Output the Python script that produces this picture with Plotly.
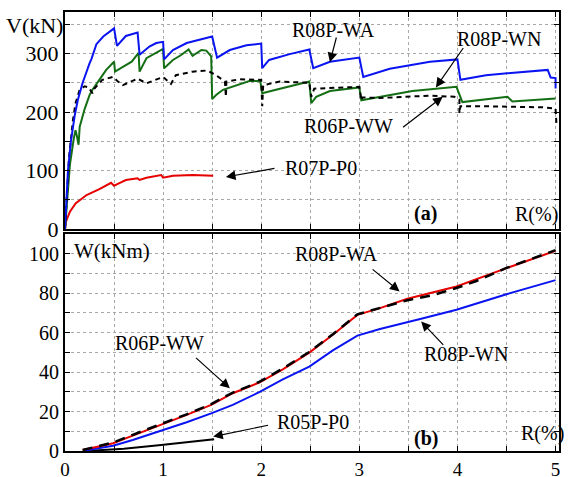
import plotly.graph_objects as go

# ---------------- Data: panel (a) V(kN) vs R(%) ----------------
wa_R = [0, 0.03, 0.06, 0.10, 0.13, 0.18, 0.25, 0.27, 0.32, 0.39, 0.50, 0.53, 0.62, 0.74, 0.76, 0.86, 0.93, 1.0, 1.01,
        1.10, 1.24, 1.37, 1.50, 1.55, 1.68, 1.85, 2.0, 2.01, 2.08, 2.29, 2.49, 2.53, 2.70, 3.0, 3.04, 3.31, 3.72, 4.0,
        4.03, 4.29, 4.92, 4.95, 5.0, 5.0]
wa_V = [0, 100, 150, 195, 220, 250, 283, 291, 316, 329, 343, 313, 330, 336, 298, 312, 318, 320, 290,
        306, 318, 324, 329, 293, 306, 314, 317, 275, 289, 299, 307, 275, 286, 293, 260, 274, 286, 290,
        255, 263, 272, 259, 258, 240]

wn_R = [0, 0.05, 0.09, 0.107, 0.12, 0.138, 0.15, 0.20, 0.25, 0.28, 0.35, 0.42, 0.50, 0.51, 0.59, 0.68, 0.75, 0.76,
        0.83, 0.91, 1.0, 1.01, 1.10, 1.18, 1.26, 1.30, 1.39, 1.44, 1.49, 1.50, 1.54, 1.61, 1.75, 1.88, 1.99, 2.01,
        2.15, 2.39, 2.49, 2.51, 2.56, 2.70, 3.0, 3.02, 3.21, 3.54, 3.99, 4.05, 4.51, 4.56, 5.0]
wn_V = [0, 110, 155, 169, 160, 144, 175, 205, 229, 238, 255, 272, 286, 269, 277, 286, 301, 269,
        292, 300, 308, 275, 289, 297, 307, 296, 306, 305, 295, 222, 229, 238, 246, 253, 253, 232,
        238, 248, 252, 215, 226, 236, 242, 220, 226, 236, 243, 217, 226, 218, 223]

ww_R = [0, 0.04, 0.08, 0.107, 0.15, 0.20, 0.24, 0.28, 0.30, 0.38, 0.49, 0.54, 0.59, 0.68, 0.74, 0.83, 1.0, 1.08,
        1.13, 1.30, 1.45, 1.54, 1.63, 1.64, 1.645, 1.78, 2.0, 2.01, 2.02, 2.19, 2.49, 2.51, 2.54, 3.0, 3.02, 3.03,
        3.21, 3.72, 3.97, 4.02, 4.02, 4.03, 4.23, 4.87, 5.0, 5.01]
ww_V = [0, 120, 185, 215, 238, 244, 242, 232, 240, 255, 260, 252, 246, 252, 257, 249, 260, 248,
        263, 269, 271, 263, 252, 226, 252, 256, 255, 210, 246, 252, 250, 226, 240, 243, 220, 225,
        224, 228, 226, 221, 198, 210, 210, 208, 206, 176]

p0_R = [0, 0.01, 0.05, 0.11, 0.22, 0.35, 0.47, 0.50, 0.56, 0.62, 0.74, 0.76, 0.83, 0.98, 1.0, 1.10, 1.30, 1.51]
p0_V = [0, 12.5, 29.6, 44, 58, 68, 79, 74, 79, 83.8, 86.6, 83.8, 87.7, 92.3, 87.7, 91, 92.3, 91]

# ---------------- Data: panel (b) W(kNm) vs R(%) ----------------
b_red_R = [0.18, 0.49, 0.69, 0.98, 1.24, 1.49, 1.71, 1.98, 2.22, 2.49, 2.73, 2.98, 3.21, 3.49, 3.99, 4.5, 5.0]
b_red_W = [0.5, 3.9, 7.8, 13.2, 18.3, 23.4, 29.3, 34.7, 41.4, 49.9, 58.9, 69.0, 72.4, 77.2, 83.4, 92.7, 101.5]

b_dash_R = [0.18, 0.49, 0.69, 0.98, 1.24, 1.49, 1.71, 1.98, 2.22, 2.49, 2.73, 2.98, 3.21, 3.49, 3.75, 3.99, 4.2, 4.5, 5.0]
b_dash_W = [0.5, 4.3, 8.2, 13.5, 18.6, 23.8, 29.6, 35.0, 41.8, 50.2, 59.2, 69.3, 72.6, 76.4, 79.0, 82.6, 86.3, 92.8, 101.8]

b_blue_R = [0.2, 0.49, 0.69, 0.98, 1.24, 1.49, 1.71, 1.98, 2.22, 2.49, 2.73, 2.98, 3.21, 3.61, 3.99, 4.5, 5.0]
b_blue_W = [0.2, 2.7, 5.6, 10.2, 14.6, 19.1, 23.4, 29.8, 36.3, 42.8, 51.0, 58.5, 61.8, 66.8, 71.6, 79.5, 86.6]

b_p0_R = [0.22, 0.6, 0.98, 1.25, 1.52]
b_p0_W = [0, 1.2, 3.0, 4.4, 6.0]

top_yticks = [0, 50, 100, 150, 200, 250, 300, 350]
top_ylabels = ["0", "", "100", "", "200", "", "300", ""]
bot_yticks = [0, 10, 20, 30, 40, 50, 60, 70, 80, 90, 100, 110]
bot_ylabels = ["0", "", "20", "", "40", "", "60", "", "80", "", "100", ""]
xticks = [0, 0.5, 1, 1.5, 2, 2.5, 3, 3.5, 4, 4.5, 5]
xlabels = ["0", "", "1", "", "2", "", "3", "", "4", "", "5"]

FONT = "Liberation Serif"
BLUE = "#0a14f0"
GREEN = "#146e14"
RED = "#e60000"

fig = go.Figure()
fig.add_trace(go.Scatter(x=p0_R, y=p0_V, mode="lines", line=dict(color=RED, width=2), xaxis="x", yaxis="y"))
fig.add_trace(go.Scatter(x=wn_R, y=wn_V, mode="lines", line=dict(color=GREEN, width=2), xaxis="x", yaxis="y"))
fig.add_trace(go.Scatter(x=ww_R, y=ww_V, mode="lines", line=dict(color="black", width=2, dash="5px,4px"), xaxis="x", yaxis="y"))
fig.add_trace(go.Scatter(x=wa_R, y=wa_V, mode="lines", line=dict(color=BLUE, width=2), xaxis="x", yaxis="y"))

fig.add_trace(go.Scatter(x=b_p0_R, y=b_p0_W, mode="lines", line=dict(color="black", width=2), xaxis="x2", yaxis="y2"))
fig.add_trace(go.Scatter(x=b_blue_R, y=b_blue_W, mode="lines", line=dict(color=BLUE, width=2), xaxis="x2", yaxis="y2"))
fig.add_trace(go.Scatter(x=b_red_R, y=b_red_W, mode="lines", line=dict(color=RED, width=2), xaxis="x2", yaxis="y2"))
fig.add_trace(go.Scatter(x=b_dash_R, y=b_dash_W, mode="lines", line=dict(color="black", width=2.5, dash="10px,7px"), xaxis="x2", yaxis="y2"))

axis_common = dict(showline=True, linewidth=2, linecolor="black", mirror="ticks", ticks="inside", ticklen=5,
                   tickcolor="black", showgrid=True, gridcolor="#a8a8a8", griddash="dot", gridwidth=1,
                   zeroline=False, automargin=False, tickfont=dict(family=FONT, size=20, color="black"))

fig.update_layout(
    width=573, height=477, margin=dict(l=65, r=14, t=12, b=26, autoexpand=False),
    paper_bgcolor="white", plot_bgcolor="white", showlegend=False,
    font=dict(family=FONT, color="black"),
    xaxis=dict(axis_common, domain=[0, 1], range=[0, 5.035], anchor="y", tickvals=xticks,
               ticktext=[""] * len(xticks)),
    yaxis=dict(axis_common, domain=[0.5057, 1], range=[0, 371], anchor="x", tickvals=top_yticks,
               ticktext=top_ylabels, tickfont=dict(family=FONT, size=22, color="black")),
    xaxis2=dict(axis_common, domain=[0, 1], range=[0, 5.035], anchor="y2", tickvals=xticks, ticktext=xlabels,
                tickfont=dict(family=FONT, size=19, color="black")),
    yaxis2=dict(axis_common, domain=[0, 0.4943], range=[0, 110], anchor="x2", tickvals=bot_yticks,
                ticktext=bot_ylabels),
)

ann = []
def txt(x, y, s, xr="x", yr="y", size=20, bold=False):
    ann.append(dict(x=x, y=y, xref=xr, yref=yr, text=("<b>%s</b>" % s) if bold else s, showarrow=False,
                    xanchor="center", yanchor="middle", font=dict(family=FONT, size=size, color="black")))

def arrow(hx, hy, tx, ty, xr="x", yr="y"):
    ann.append(dict(x=hx, y=hy, ax=tx, ay=ty, xref=xr, yref=yr, axref=xr, ayref=yr, text="", showarrow=True,
                    arrowhead=2, arrowsize=1.6, arrowwidth=1.2, arrowcolor="black", standoff=0, startstandoff=0))

# panel (a)
txt(2.74, 341, "R08P-WA")
txt(4.42, 324, "R08P-WN")
txt(2.885, 176, "R06P-WW")
txt(2.61, 105, "R07P-P0")
txt(3.67, 26, "(a)", bold=True)
txt(4.81, 24, "R(%)")
arrow(2.70, 285, 2.77, 330)
arrow(3.78, 242, 4.07, 312)
arrow(3.85, 226, 3.43, 172)
arrow(1.64, 89, 2.15, 104)
# panel (b)
txt(2.77, 100, "R08P-WA", "x2", "y2")
txt(4.09, 49.2, "R08P-WN", "x2", "y2")
txt(0.963, 54.7, "R06P-WW", "x2", "y2")
txt(2.53, 14.5, "R05P-P0", "x2", "y2")
txt(3.68, 6.4, "(b)", "x2", "y2", bold=True)
txt(4.87, 9.1, "R(%)", "x2", "y2")
txt(0.474, 101.3, "W(kNm)", "x2", "y2", size=21)
arrow(3.41, 80.9, 3.12, 92.7, "x2", "y2")
arrow(3.63, 65.6, 3.87, 53, "x2", "y2")
arrow(1.68, 31.8, 1.32, 47.9, "x2", "y2")
arrow(1.51, 7.3, 2.085, 13.2, "x2", "y2")
# V(kN) label in margin
ann.append(dict(x=-0.062, y=0.970, xref="paper", yref="paper", text="V(kN)", showarrow=False,
                xanchor="center", yanchor="middle", font=dict(family=FONT, size=22, color="black")))

fig.update_layout(annotations=ann)
fig.write_html("out.html", config={"displayModeBar": False},
               post_script="document.body.style.margin='0px';")
